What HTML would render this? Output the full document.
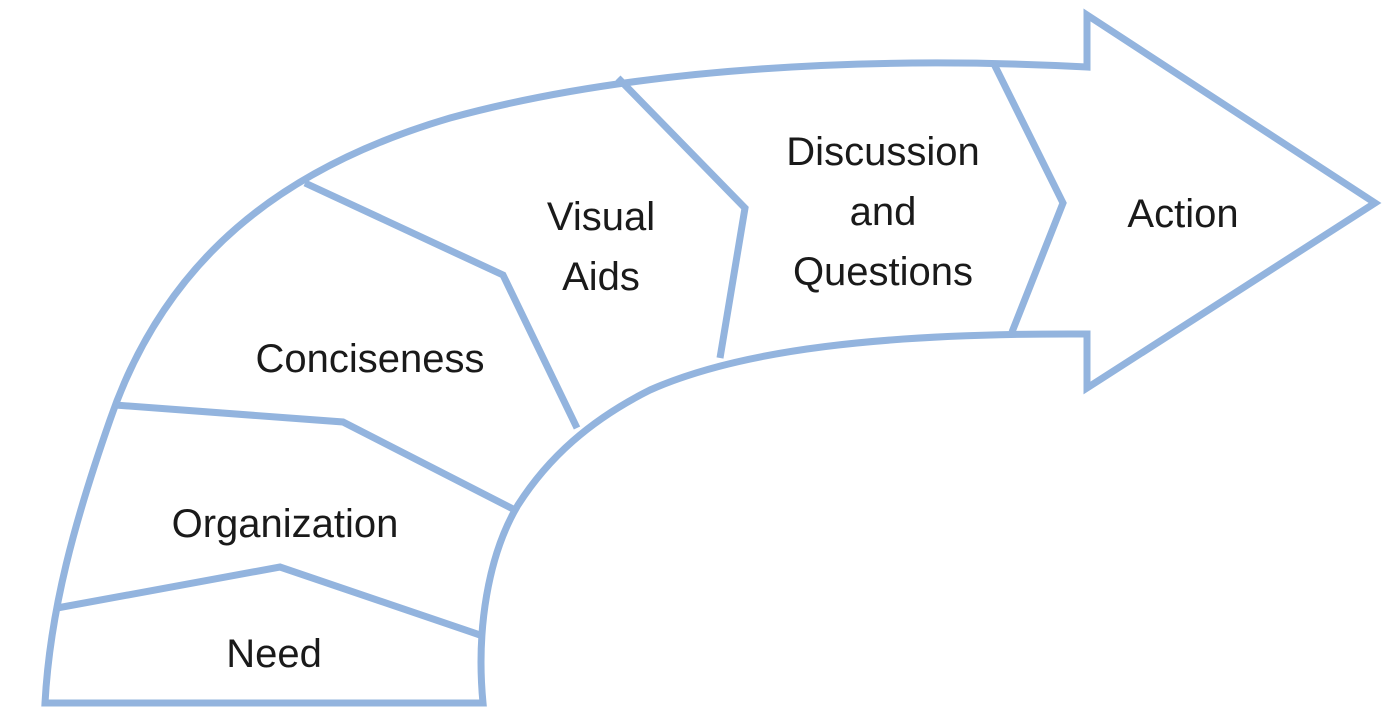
<!DOCTYPE html>
<html><head><meta charset="utf-8"><style>
html,body{margin:0;padding:0;background:#fff;}
svg{display:block;}
text{font-family:"Liberation Sans",sans-serif;font-size:40px;fill:#1a1a1a;text-anchor:middle;}
</style></head><body>
<svg width="1398" height="726" viewBox="0 0 1398 726" xmlns="http://www.w3.org/2000/svg">
<g fill="none" stroke="#93b4de" stroke-width="7" stroke-linejoin="miter">
<path d="M45,703 L483,703 C476,630 488,555 518,505 C548,458 590,420 650,390 C740,350 880,333 1087,334 L1087,388 L1375,203 L1087,15 L1087,67 C880,56 640,66 450,118 C280,168 165,260 110,420 C75,520 50,610 45,703 Z"/>
<polyline points="57,608 280,567 480,635"/>
<polyline points="115,405 343,422 515,510"/>
<polyline points="305,183 503,275 577,428"/>
<polyline points="618,78 745,208 720,358"/>
<polyline points="993,62 1063,203 1012,332"/>
</g>
<text x="274" y="667">Need</text>
<text x="285" y="537">Organization</text>
<text x="370" y="372">Conciseness</text>
<text x="601" y="230">Visual</text>
<text x="601" y="290">Aids</text>
<text x="883" y="165">Discussion</text>
<text x="883" y="225">and</text>
<text x="883" y="285">Questions</text>
<text x="1183" y="227">Action</text>
</svg>
</body></html>
